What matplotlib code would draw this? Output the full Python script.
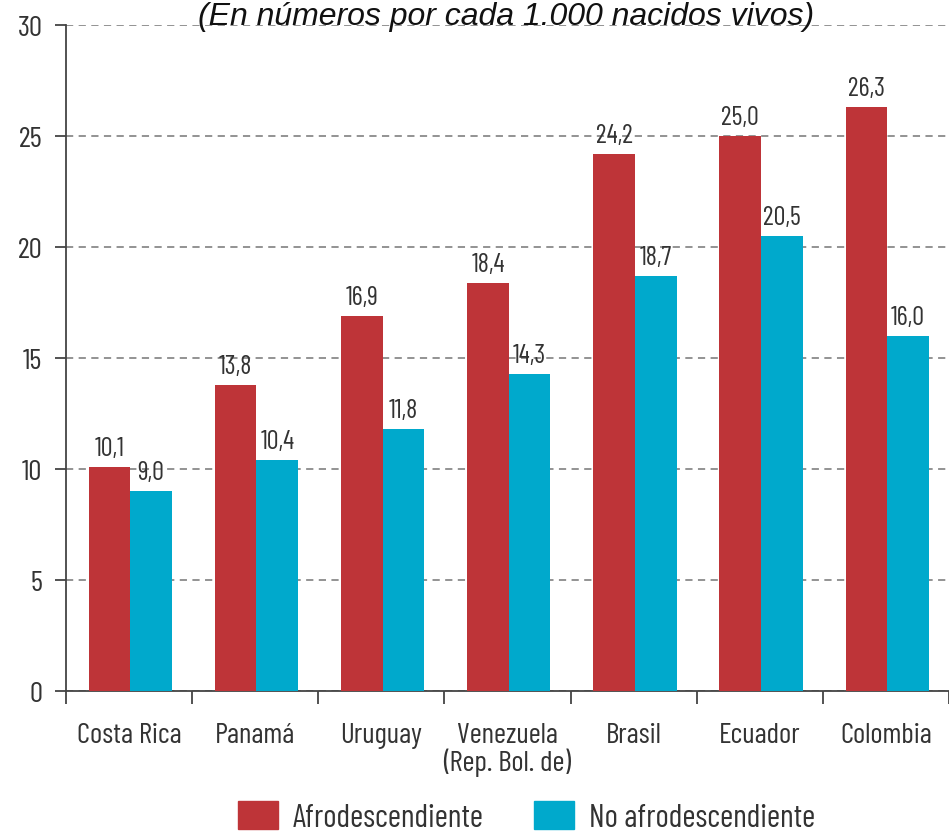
import matplotlib
matplotlib.use("Agg")
import matplotlib.pyplot as plt
import numpy as np
from matplotlib.patches import Patch

countries = ["Costa Rica", "Panamá", "Uruguay", "Venezuela\n(Rep. Bol. de)", "Brasil", "Ecuador", "Colombia"]
afro = [10.1, 13.8, 16.9, 18.4, 24.2, 25.0, 26.3]
no_afro = [9.0, 10.4, 11.8, 14.3, 18.7, 20.5, 16.0]
series_names = ["Afrodescendiente", "No afrodescendiente"]
yticks = [0, 5, 10, 15, 20, 25, 30]
title = "(En números por cada 1.000 nacidos vivos)"

RED = "#BE3438"
CYAN = "#00A9CC"
TXT = "#333333"
COND = ["Barlow Condensed", "Roboto Condensed", "DejaVu Sans"]
plt.rcParams["font.family"] = COND

W, H = 949, 837
fig = plt.figure(figsize=(W / 100, H / 100), dpi=100)
ax = fig.add_axes([66 / W, 1 - 692 / H, (W - 66) / W, (692 - 26) / H])

x = np.arange(len(countries))
bw = 0.33
ax.bar(x - bw / 2 + 0.01, afro, bw, color=RED, zorder=3)
ax.bar(x + bw / 2 + 0.01, no_afro, bw, color=CYAN, zorder=3)

def fmt(v):
    return f"{v:.1f}".replace(".", ",")

for xi, v in zip(x - bw / 2 + 0.01, afro):
    ax.annotate(fmt(v), (xi, v), xytext=(0, 5), textcoords="offset points",
                ha="center", va="bottom", fontsize=19, color=TXT)
for xi, v in zip(x + bw / 2 + 0.01, no_afro):
    ax.annotate(fmt(v), (xi, v), xytext=(0, 5), textcoords="offset points",
                ha="center", va="bottom", fontsize=19, color=TXT)

ax.set_xlim(-0.5, 6.47)
ax.set_ylim(0, 30)
ax.set_yticks(yticks)
ax.set_yticklabels([str(t) for t in yticks], fontsize=21, color=TXT)
ax.yaxis.grid(True, linestyle=(0, (4, 3)), color="#8a8a8a", linewidth=1.3, zorder=0)
ax.set_axisbelow(True)

ax.set_xticks(x)
ax.set_xticklabels(countries, fontsize=21, color=TXT, linespacing=1.0)
ax.set_xticks(np.arange(-0.5, len(countries) - 0.4, 1.0), minor=True)
ax.tick_params(axis="x", which="major", length=0, pad=22)
ax.tick_params(axis="x", which="minor", length=9, width=1.3, color="#444444", direction="out")
ax.tick_params(axis="y", length=8, width=1.3, color="#444444", pad=9)

for s in ["top", "right"]:
    ax.spines[s].set_visible(False)
for s in ["left", "bottom"]:
    ax.spines[s].set_color("#444444")
    ax.spines[s].set_linewidth(1.3)

fig.text(506 / W, 1 - 17 / H, title, ha="center", va="center", fontsize=23,
         style="italic", family=["Liberation Sans", "DejaVu Sans"], color="#111111")

handles = [Patch(color=RED), Patch(color=CYAN)]
fig.legend(handles, series_names, loc="upper left", bbox_to_anchor=(238 / W, 1 - 802 / H),
           ncol=2, frameon=False, fontsize=23, handlelength=1.25, handleheight=0.95,
           handletextpad=0.45, columnspacing=1.6, borderpad=0, borderaxespad=0,
           labelcolor=TXT)

fig.savefig("out.png", dpi=100)
